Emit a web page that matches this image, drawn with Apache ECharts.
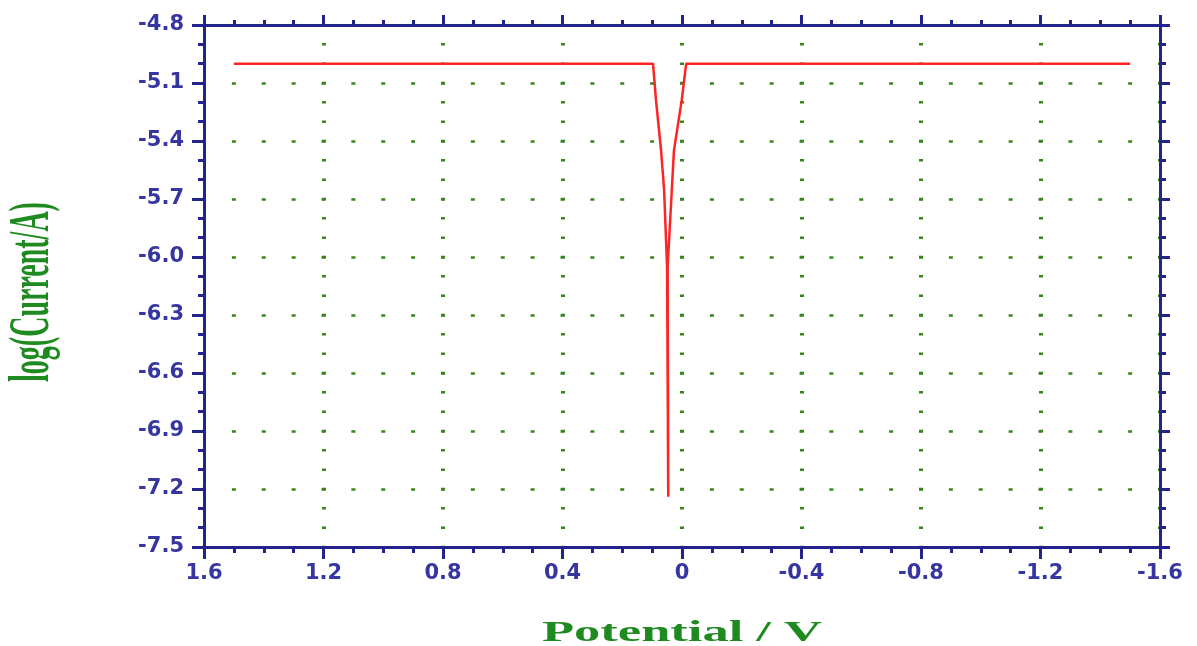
<!DOCTYPE html>
<html>
<head>
<meta charset="utf-8">
<script src="https://cdn.jsdelivr.net/npm/echarts@6/dist/echarts.min.js"></script>
<style>
html,body{margin:0;padding:0;background:#fff;}
#chart{width:1197px;height:646px;}
</style>
</head>
<body>
<div id="chart"></div>
<script>
// Data (Tafel plot)
const potential = [1.5, 0.097, 0.087, 0.070, 0.060, 0.050, 0.046, 0.048, 0.034, 0.027, 0.001, -0.014, -1.5];
const logCurrent = [-5.0, -5.0, -5.19, -5.45, -5.65, -6.05, -7.24, -6.05, -5.65, -5.45, -5.19, -5.0, -5.0];
const xTickLabels = ['-1.6', '-1.2', '-0.8', '-0.4', '0', '0.4', '0.8', '1.2', '1.6'];
const yTickLabels = ['-7.5', '-7.2', '-6.9', '-6.6', '-6.3', '-6.0', '-5.7', '-5.4', '-5.1', '-4.8'];
const xTitle = 'Potential / V';
const yTitle = 'log(Current/A)';

const chart = echarts.init(document.getElementById('chart'), null, {renderer: 'canvas'});
const G = {left: 204, top: 25, width: 956, height: 522};
const axisColor = '#23238c';
const labelColor = '#3636a0';
const gridColor = '#37851c';
const xStepPx = G.width / 32;   // 0.1 V
const yStepPx = G.height / 27;  // 0.1 decade

function pickLabel(list, v) {
  let best = list[0], d = Infinity;
  list.forEach(s => { const dd = Math.abs(parseFloat(s) - v); if (dd < d) { d = dd; best = s; } });
  return best;
}

const labelStyle = {color: labelColor, fontFamily: 'DejaVu Sans', fontWeight: 'bold', fontSize: 21};

const data = potential.map((p, i) => [p, logCurrent[i]]);

chart.setOption({
  animation: false,
  backgroundColor: '#fff',
  grid: {left: G.left, top: G.top, width: G.width, height: G.height, containLabel: false},
  xAxis: [{
    type: 'value', min: -1.6, max: 1.6, interval: 0.4, inverse: true, position: 'bottom',
    axisLine: {onZero: false, lineStyle: {color: axisColor, width: 3}},
    axisTick: {show: true, inside: false, length: 12, lineStyle: {color: axisColor, width: 3}},
    minorTick: {show: true, splitNumber: 4, length: 6, lineStyle: {color: axisColor, width: 3}},
    axisLabel: Object.assign({margin: 16, formatter: v => pickLabel(xTickLabels, v)}, labelStyle),
    splitLine: {show: true, lineStyle: {color: gridColor, width: 4, type: [2.5, yStepPx - 2.5], dashOffset: 1.25}},
    minorSplitLine: {show: false}
  }, {
    type: 'value', min: -1.6, max: 1.6, interval: 0.4, inverse: true, position: 'top',
    axisLine: {onZero: false, lineStyle: {color: axisColor, width: 3}},
    axisTick: {show: true, inside: false, length: 10, lineStyle: {color: axisColor, width: 3}},
    minorTick: {show: true, splitNumber: 4, length: 5, lineStyle: {color: axisColor, width: 3}},
    axisLabel: {show: false},
    splitLine: {show: false}
  }],
  yAxis: [{
    type: 'value', min: -7.5, max: -4.8, interval: 0.3, position: 'left',
    axisLine: {onZero: false, lineStyle: {color: axisColor, width: 3}},
    axisTick: {show: true, inside: false, length: 12, lineStyle: {color: axisColor, width: 3}},
    minorTick: {show: true, splitNumber: 3, length: 6, lineStyle: {color: axisColor, width: 3}},
    axisLabel: Object.assign({margin: 20, formatter: v => pickLabel(yTickLabels, v)}, labelStyle),
    splitLine: {show: true, lineStyle: {color: gridColor, width: 2.5, type: [4, xStepPx - 4], dashOffset: 2}},
    minorSplitLine: {show: false}
  }, {
    type: 'value', min: -7.5, max: -4.8, interval: 0.3, position: 'right',
    axisLine: {onZero: false, lineStyle: {color: axisColor, width: 3}},
    axisTick: {show: true, inside: false, length: 10, lineStyle: {color: axisColor, width: 3}},
    minorTick: {show: true, splitNumber: 3, length: 6, lineStyle: {color: axisColor, width: 3}},
    axisLabel: {show: false},
    splitLine: {show: false}
  }],
  series: [{
    type: 'line',
    xAxisIndex: 0, yAxisIndex: 0,
    data: data,
    showSymbol: false,
    symbol: 'none',
    lineStyle: {color: '#ff2424', width: 2.5},
    z: 5
  }],
  graphic: [{
    type: 'text', x: 682, y: 633, scaleX: 1.75,
    style: {text: xTitle, font: 'bold 30px "Liberation Serif"', fill: '#1f8a1f', align: 'center', verticalAlign: 'middle'}
  }, {
    type: 'text', x: 34, y: 292, rotation: Math.PI / 2, scaleY: 2.0,
    style: {text: yTitle, font: 'bold 28px "Liberation Serif"', fill: '#1f8a1f', align: 'center', verticalAlign: 'middle'}
  }]
});
</script>
</body>
</html>
